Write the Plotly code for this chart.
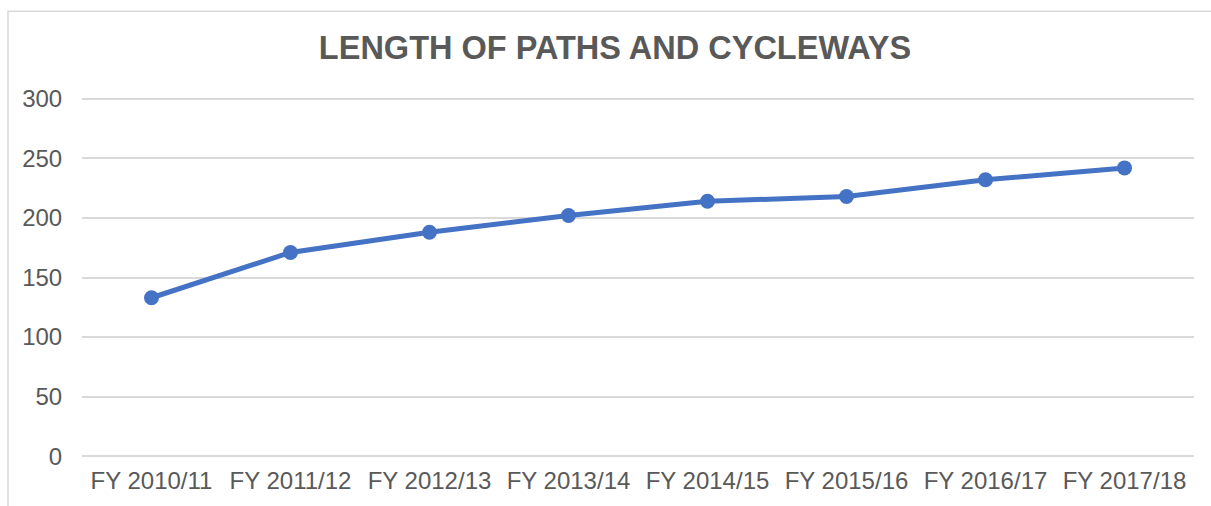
import plotly.graph_objects as go

categories = ["FY 2010/11", "FY 2011/12", "FY 2012/13", "FY 2013/14",
              "FY 2014/15", "FY 2015/16", "FY 2016/17", "FY 2017/18"]
lengths = [133, 171, 188, 202, 214, 218, 232, 242]
y_ticks = [0, 50, 100, 150, 200, 250, 300]

W, H = 1211, 506
Y0_PX, Y300_PX = 456.3, 98.7          # pixel rows of 0 and 300
X_LEFT, X_RIGHT = 82, 1194            # category band edges
PAD = 1.5                             # value padding so edge gridlines are drawn

per_unit = (Y0_PX - Y300_PX) / 300.0
T = Y300_PX - PAD * per_unit
B = H - (Y0_PX + PAD * per_unit)
L, R = X_LEFT, W - X_RIGHT

fig = go.Figure()
fig.add_trace(go.Scatter(
    x=categories, y=lengths, mode="lines+markers",
    line=dict(color="#4472C4", width=5),
    marker=dict(color="#4472C4", size=15),
    showlegend=False,
))

plot_w = W - L - R
plot_h = H - T - B

def px_x(p):
    return (p - L) / plot_w

def px_y(p):
    return (H - B - p) / plot_h

fig.add_shape(type="rect", xref="paper", yref="paper",
              x0=px_x(8), x1=px_x(1216), y0=px_y(520), y1=px_y(11),
              line=dict(color="#D9D9D9", width=1.5), fillcolor="rgba(0,0,0,0)",
              layer="below")

fig.update_layout(
    width=W, height=H,
    margin=dict(l=L, r=R, t=T, b=B, pad=0),
    paper_bgcolor="white", plot_bgcolor="white",
    font=dict(family="Liberation Sans, Arial, sans-serif", color="#595959"),
    title=dict(text="<b>LENGTH OF PATHS AND CYCLEWAYS</b>",
               x=615 / W, xanchor="center", y=1 - 48 / H, yanchor="middle",
               font=dict(size=32.5, color="#595959")),
    xaxis=dict(range=[-0.5, 7.5], showgrid=False, zeroline=False,
               showline=False, ticks="outside", ticklen=1,
               tickcolor="rgba(0,0,0,0)", tickfont=dict(size=24, color="#595959")),
    yaxis=dict(range=[-PAD, 300 + PAD], tickvals=y_ticks, showgrid=True,
               gridcolor="#D9D9D9", gridwidth=1.5, zeroline=False,
               showline=False, ticks="outside", ticklen=14,
               tickcolor="rgba(0,0,0,0)", tickfont=dict(size=24, color="#595959")),
)

fig.write_html("out.html", config={"displayModeBar": False},
               post_script="document.body.style.margin='0';")
